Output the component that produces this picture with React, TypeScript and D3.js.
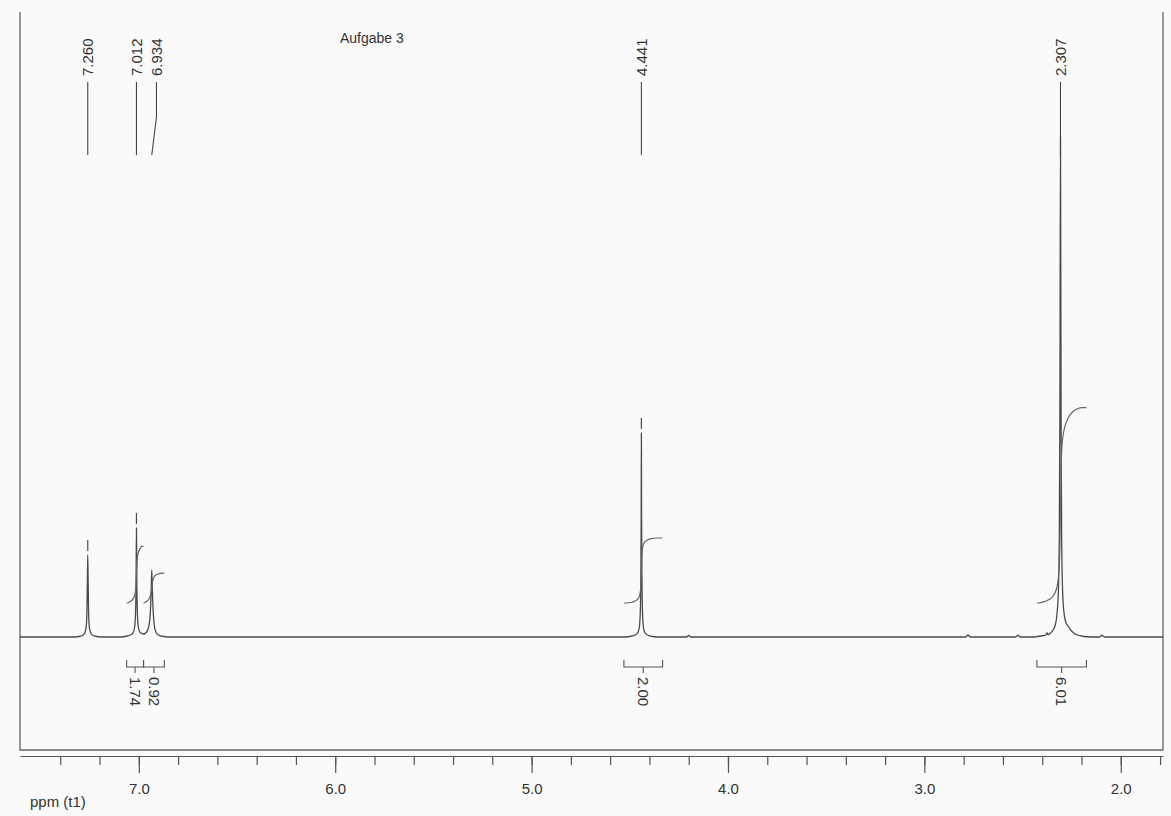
import React, { useEffect, useRef } from "react";
import * as d3 from "d3";

type Pt = [number, number];

const title = "Aufgabe 3";
const unitLabel = "ppm (t1)";

// shifts printed above the peaks
const peakShifts = [7.26, 7.012, 6.934, 4.441, 2.307];
const peakShiftLabels = ["7.260", "7.012", "6.934", "4.441", "2.307"];
// peaks that carry the small pick mark over the top
const pickedPeaks = [7.26, 7.012, 4.441];

// integration ranges (ppm) and their values
const integralStart = [7.062, 6.976, 4.53, 2.427];
const integralEnd = [6.976, 6.87, 4.333, 2.175];
const integralValues = [1.74, 0.92, 2.0, 6.01];
const integralLabels = ["1.74", "0.92", "2.00", "6.01"];

const majorTicks = [7.0, 6.0, 5.0, 4.0, 3.0, 2.0];
const minorTicks = [
  7.4, 7.2, 7.0, 6.8, 6.6, 6.4, 6.2, 6.0, 5.8, 5.6, 5.4, 5.2, 5.0, 4.8, 4.6,
  4.4, 4.2, 4.0, 3.8, 3.6, 3.4, 3.2, 3.0, 2.8, 2.6, 2.4, 2.2, 2.0, 1.8,
];

// spectrum trace: [ppm, intensity]
const baselinePts: Pt[] = [
  [7.605, 0], [4.212, 0], [4.2, 0.3], [4.188, 0],
  [2.79, 0], [2.778, 0.4], [2.766, 0],
  [2.535, 0], [2.524, 0.35], [2.513, 0],
  [2.108, 0], [2.096, 0.35], [2.084, 0], [1.785, 0],
];
const peak7260: Pt[] = [
  [7.33, 0], [7.3, 0.15], [7.285, 0.35], [7.275, 0.8], [7.268, 2], [7.264, 5.5],
  [7.262, 11], [7.26, 16.4], [7.258, 11], [7.256, 5.5], [7.252, 2], [7.245, 0.8],
  [7.235, 0.35], [7.22, 0.15], [7.19, 0],
];
const peak7012: Pt[] = [
  [7.09, 0], [7.06, 0.2], [7.04, 0.45], [7.03, 0.8], [7.022, 1.8], [7.017, 4.5],
  [7.014, 10.5], [7.012, 21.8], [7.01, 10.5], [7.007, 4.5], [7.002, 1.9],
  [6.995, 1], [6.985, 0.7], [6.975, 0.6], [6.965, 0.8], [6.955, 1.4],
  [6.948, 2.4], [6.942, 4.5], [6.938, 8], [6.936, 10.6], [6.934, 13.4],
  [6.932, 10.6], [6.93, 8], [6.926, 4.5], [6.92, 2], [6.912, 0.9], [6.9, 0.4],
  [6.88, 0.15], [6.85, 0],
];
const peak4441: Pt[] = [
  [4.52, 0], [4.49, 0.2], [4.47, 0.45], [4.46, 0.8], [4.452, 1.8], [4.447, 4.5],
  [4.444, 11], [4.442, 24], [4.441, 40.8], [4.44, 24], [4.438, 11], [4.435, 4.5],
  [4.43, 1.8], [4.422, 0.8], [4.41, 0.4], [4.39, 0.15], [4.36, 0],
];
const peak2307: Pt[] = [
  [2.44, 0], [2.42, 0.15], [2.39, 0.3], [2.382, 0.4], [2.376, 0.8], [2.37, 0.45],
  [2.36, 0.7], [2.345, 1.4], [2.335, 2.2], [2.325, 4.5], [2.318, 9], [2.313, 20],
  [2.31, 45], [2.307, 100], [2.304, 45], [2.301, 20], [2.296, 9], [2.289, 4.8],
  [2.28, 3], [2.265, 2], [2.255, 1.4], [2.24, 0.8], [2.22, 0.4], [2.2, 0.2],
  [2.17, 0.05], [2.14, 0],
];

const font = "'Liberation Sans', Arial, sans-serif";
const ink = "#333";
const W = 1171;
const H = 816;

const App = () => {
  const ref = useRef<SVGSVGElement>(null);

  useEffect(() => {
    const svg = d3.select(ref.current);
    svg.selectAll("*").remove();

    const x = d3.scaleLinear().domain([7.605, 1.785]).range([20, 1163]);
    const y = d3.scaleLinear().domain([0, 100]).range([637, 137]);

    const trace = [...baselinePts, ...peak7260, ...peak7012, ...peak4441, ...peak2307]
      .sort((a, b) => b[0] - a[0]);

    svg.append("rect").attr("width", W).attr("height", H).attr("fill", "#fafafa");

    // frame (open at the top)
    svg.append("path")
      .attr("d", `M20,12V750H1163V12`)
      .attr("fill", "none")
      .attr("stroke", "#666")
      .attr("stroke-width", 1.3);

    // ppm axis
    const axisG = svg.append("g").attr("transform", "translate(0,756)");
    axisG.append("g")
      .call(d3.axisBottom(x).tickValues(minorTicks).tickSize(9).tickSizeOuter(0).tickFormat(() => ""))
      .attr("color", "#555");
    axisG.append("g")
      .call(
        d3.axisBottom(x).tickValues(majorTicks).tickSize(17).tickSizeOuter(0).tickPadding(10)
          .tickFormat(d3.format(".1f"))
      )
      .call((g) => g.select(".domain").remove())
      .attr("color", "#555")
      .attr("font-family", font)
      .attr("font-size", 15)
      .selectAll("text")
      .attr("fill", ink);
    axisG.selectAll("line, path").attr("stroke-width", 1.2);

    svg.append("text")
      .attr("x", 30).attr("y", 807)
      .attr("font-family", font).attr("font-size", 15).attr("fill", ink)
      .text(unitLabel);

    svg.append("text")
      .attr("x", 340).attr("y", 43)
      .attr("font-family", font).attr("font-size", 14).attr("fill", ink)
      .text(title);

    // spectrum
    const line = d3.line<Pt>()
      .x((d) => x(d[0]))
      .y((d) => y(d[1]))
      .curve(d3.curveMonotoneX);

    svg.append("path")
      .datum(trace)
      .attr("d", line)
      .attr("fill", "none")
      .attr("stroke", "#4a4a4a")
      .attr("stroke-width", 1.3);

    // pick marks
    pickedPeaks.forEach((p) => {
      const top = trace.find((d) => d[0] === p);
      const yt = y(top ? top[1] : 0);
      svg.append("line")
        .attr("x1", x(p)).attr("x2", x(p))
        .attr("y1", yt - 4).attr("y2", yt - 15)
        .attr("stroke", "#4a4a4a").attr("stroke-width", 1.2);
    });

    // shift labels with connectors, spread apart where crowded
    let prev = -Infinity;
    const labelX = peakShifts.map((p) => {
      let lx = x(p);
      if (lx - prev < 20) lx = prev + 20;
      prev = lx;
      return lx;
    });
    const labels = svg.append("g");
    peakShifts.forEach((p, i) => {
      const lx = labelX[i];
      labels.append("path")
        .attr("d", `M${lx},82V117L${x(p)},155`)
        .attr("fill", "none")
        .attr("stroke", "#444")
        .attr("stroke-width", 1.1);
      labels.append("text")
        .attr("transform", `translate(${lx},76) rotate(-90)`)
        .attr("dy", "0.35em")
        .attr("font-family", font).attr("font-size", 15).attr("fill", ink)
        .text(peakShiftLabels[i]);
    });

    // integrals
    const ig = svg.append("g");
    integralStart.forEach((from, i) => {
      const to = integralEnd[i];
      const pts = trace.filter((d) => d[0] <= from && d[0] >= to);
      let acc = 0;
      const cum: Pt[] = [[from, 0]];
      pts.forEach((d, j) => {
        if (j > 0) {
          const q = pts[j - 1];
          acc += ((q[0] - d[0]) * (q[1] + d[1])) / 2;
        }
        cum.push([d[0], acc]);
      });
      cum.push([to, acc]);
      const total = acc || 1;

      const iLine = d3.line<Pt>()
        .x((d) => x(d[0]))
        .y((d) => y(6.8 + (d[1] / total) * integralValues[i] * 6.5))
        .curve(d3.curveMonotoneX);
      ig.append("path")
        .datum(cum)
        .attr("d", iLine)
        .attr("fill", "none")
        .attr("stroke", "#666")
        .attr("stroke-width", 1.2);

      // bracket under the baseline
      const x1 = x(from);
      const x2 = x(to);
      const xm = (x1 + x2) / 2;
      ig.append("path")
        .attr("d", `M${x1},660V667H${x2}V660M${xm},667V673`)
        .attr("fill", "none")
        .attr("stroke", "#555")
        .attr("stroke-width", 1.1);
      ig.append("text")
        .attr("transform", `translate(${xm},677) rotate(90)`)
        .attr("dy", "0.35em")
        .attr("font-family", font).attr("font-size", 15).attr("fill", ink)
        .text(integralLabels[i]);
    });
  }, []);

  return (
    <svg
      ref={ref}
      width={W}
      height={H}
      style={{ position: "absolute", left: 0, top: 0, display: "block" }}
    ></svg>
  );
};

export default App;
